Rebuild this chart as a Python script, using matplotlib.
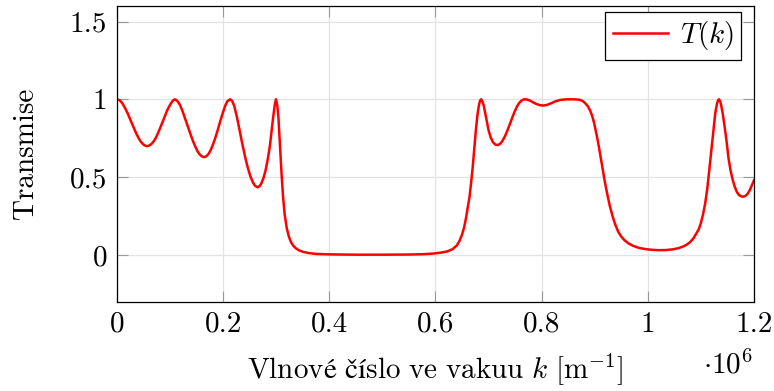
import matplotlib
matplotlib.use("Agg")
import matplotlib.pyplot as plt

# Computer Modern look
plt.rcParams["font.family"] = "serif"
plt.rcParams["font.serif"] = ["cmr10"]
plt.rcParams["mathtext.fontset"] = "cm"
plt.rcParams["axes.unicode_minus"] = False
plt.rcParams["axes.formatter.use_mathtext"] = True

# Wave number in vacuum (units of 1e6 m^-1) and transmission
k = [0.000, 0.005, 0.010, 0.015, 0.020, 0.025, 0.030, 0.035, 0.040, 0.044,
     0.048, 0.052, 0.056, 0.060, 0.064, 0.068, 0.072, 0.076, 0.080, 0.085,
     0.090, 0.095, 0.100, 0.105, 0.109, 0.113, 0.118, 0.123, 0.128, 0.133,
     0.138, 0.143, 0.148, 0.152, 0.156, 0.160, 0.164, 0.168, 0.172, 0.176,
     0.180, 0.185, 0.190, 0.195, 0.200, 0.204, 0.208, 0.213, 0.217, 0.221,
     0.226, 0.231, 0.236, 0.241, 0.246, 0.251, 0.256, 0.260, 0.265, 0.269,
     0.272, 0.276, 0.280, 0.284, 0.288, 0.291, 0.294, 0.297, 0.2994, 0.302,
     0.304, 0.307, 0.310, 0.313, 0.316, 0.320, 0.324, 0.328, 0.333, 0.338,
     0.344, 0.352, 0.362, 0.375, 0.400, 0.450, 0.500, 0.550, 0.575, 0.595,
     0.610, 0.622, 0.632, 0.640, 0.645, 0.650, 0.654, 0.657, 0.660, 0.664,
     0.667, 0.670, 0.673, 0.676, 0.679, 0.682, 0.684, 0.686, 0.688, 0.691,
     0.694, 0.697, 0.700, 0.704, 0.708, 0.713, 0.718, 0.722, 0.726, 0.730,
     0.734, 0.738, 0.742, 0.746, 0.750, 0.754, 0.758, 0.762, 0.767, 0.772,
     0.778, 0.784, 0.790, 0.796, 0.803, 0.810, 0.818, 0.826, 0.835, 0.847,
     0.860, 0.870, 0.877, 0.882, 0.887, 0.891, 0.895, 0.899, 0.903, 0.907,
     0.911, 0.915, 0.919, 0.923, 0.928, 0.933, 0.938, 0.944, 0.950, 0.956,
     0.963, 0.972, 0.982, 0.993, 1.005, 1.020, 1.035, 1.048, 1.058, 1.066,
     1.073, 1.080, 1.086, 1.091, 1.096, 1.100, 1.104, 1.108, 1.112, 1.116,
     1.120, 1.124, 1.127, 1.130, 1.132, 1.134, 1.136, 1.138, 1.141, 1.144,
     1.148, 1.152, 1.156, 1.160, 1.164, 1.168, 1.172, 1.176, 1.180, 1.184,
     1.188, 1.192, 1.196, 1.200]
T = [1.000, 0.994, 0.975, 0.945, 0.910, 0.870, 0.830, 0.790, 0.755, 0.732,
     0.715, 0.704, 0.699, 0.702, 0.710, 0.725, 0.745, 0.773, 0.805, 0.848,
     0.890, 0.932, 0.965, 0.991, 1.000, 0.992, 0.968, 0.928, 0.880, 0.830,
     0.780, 0.733, 0.692, 0.664, 0.645, 0.633, 0.628, 0.633, 0.647, 0.670,
     0.702, 0.750, 0.805, 0.865, 0.920, 0.960, 0.988, 1.000, 0.990, 0.955,
     0.885, 0.800, 0.715, 0.635, 0.565, 0.508, 0.466, 0.444, 0.434, 0.443,
     0.460, 0.495, 0.545, 0.615, 0.700, 0.790, 0.880, 0.960, 1.000, 0.960,
     0.890, 0.710, 0.520, 0.365, 0.255, 0.168, 0.115, 0.080, 0.055, 0.039,
     0.027, 0.018, 0.011, 0.006, 0.003, 0.001, 0.001, 0.002, 0.004, 0.008,
     0.014, 0.022, 0.036, 0.060, 0.088, 0.130, 0.178, 0.228, 0.288, 0.370,
     0.460, 0.560, 0.680, 0.800, 0.900, 0.965, 0.992, 1.000, 0.990, 0.958,
     0.905, 0.850, 0.800, 0.755, 0.725, 0.708, 0.706, 0.715, 0.732, 0.757,
     0.787, 0.822, 0.858, 0.895, 0.928, 0.957, 0.978, 0.992, 1.000, 0.999,
     0.992, 0.980, 0.970, 0.963, 0.960, 0.964, 0.975, 0.987, 0.996, 1.000,
     1.000, 0.998, 0.990, 0.975, 0.955, 0.930, 0.895, 0.845, 0.780, 0.710,
     0.630, 0.550, 0.470, 0.400, 0.320, 0.255, 0.200, 0.150, 0.117, 0.094,
     0.075, 0.058, 0.046, 0.038, 0.033, 0.030, 0.031, 0.036, 0.043, 0.053,
     0.065, 0.083, 0.107, 0.135, 0.165, 0.205, 0.260, 0.330, 0.425, 0.555,
     0.690, 0.820, 0.910, 0.968, 0.992, 1.000, 0.990, 0.965, 0.910, 0.840,
     0.740, 0.620, 0.540, 0.480, 0.435, 0.402, 0.384, 0.376, 0.374, 0.379,
     0.393, 0.415, 0.448, 0.480]

xticks = [0, 0.2, 0.4, 0.6, 0.8, 1.0, 1.2]
xtick_labels = ["0", "0.2", "0.4", "0.6", "0.8", "1", "1.2"]
yticks = [0, 0.5, 1.0, 1.5]
ytick_labels = ["0", "0.5", "1", "1.5"]

fs = 21
fig = plt.figure(figsize=(7.74, 3.91), dpi=100)
ax = fig.add_axes([117 / 774, 1 - 301.5 / 391, 637 / 774, 295.5 / 391])

ax.plot(k, T, color="red", lw=1.8, label="$T(k)$")

ax.set_xlim(0, 1.2)
ax.set_ylim(-0.3, 1.6)
ax.set_xticks(xticks)
ax.set_xticklabels(xtick_labels)
ax.set_yticks(yticks)
ax.set_yticklabels(ytick_labels)
ax.tick_params(direction="in", length=8, width=0.8, color="#999999",
               labelsize=fs, top=True, right=True, pad=7)
ax.grid(True, color="#e3e3e3", lw=0.9)
ax.set_axisbelow(True)
for s in ax.spines.values():
    s.set_linewidth(0.9)
    s.set_color("black")

ax.set_ylabel("Transmise", fontsize=fs, labelpad=22)
ax.set_xlabel(r"$\mathrm{Vlnové\ číslo\ ve\ vakuu}\ k\ [\mathrm{m}^{-1}]$",
              fontsize=fs, labelpad=10)
fig.text(728 / 774, 1 - 365 / 391, r"$\cdot 10^6$", fontsize=fs, ha="center", va="center")

leg = ax.legend(loc="upper right", bbox_to_anchor=(0.9796, 0.9797), fontsize=fs,
                fancybox=False, framealpha=1, edgecolor="black", handlelength=1.9,
                borderpad=0.25, handletextpad=0.4, borderaxespad=0)
leg.get_frame().set_linewidth(0.9)

fig.savefig("out.png", dpi=100)
